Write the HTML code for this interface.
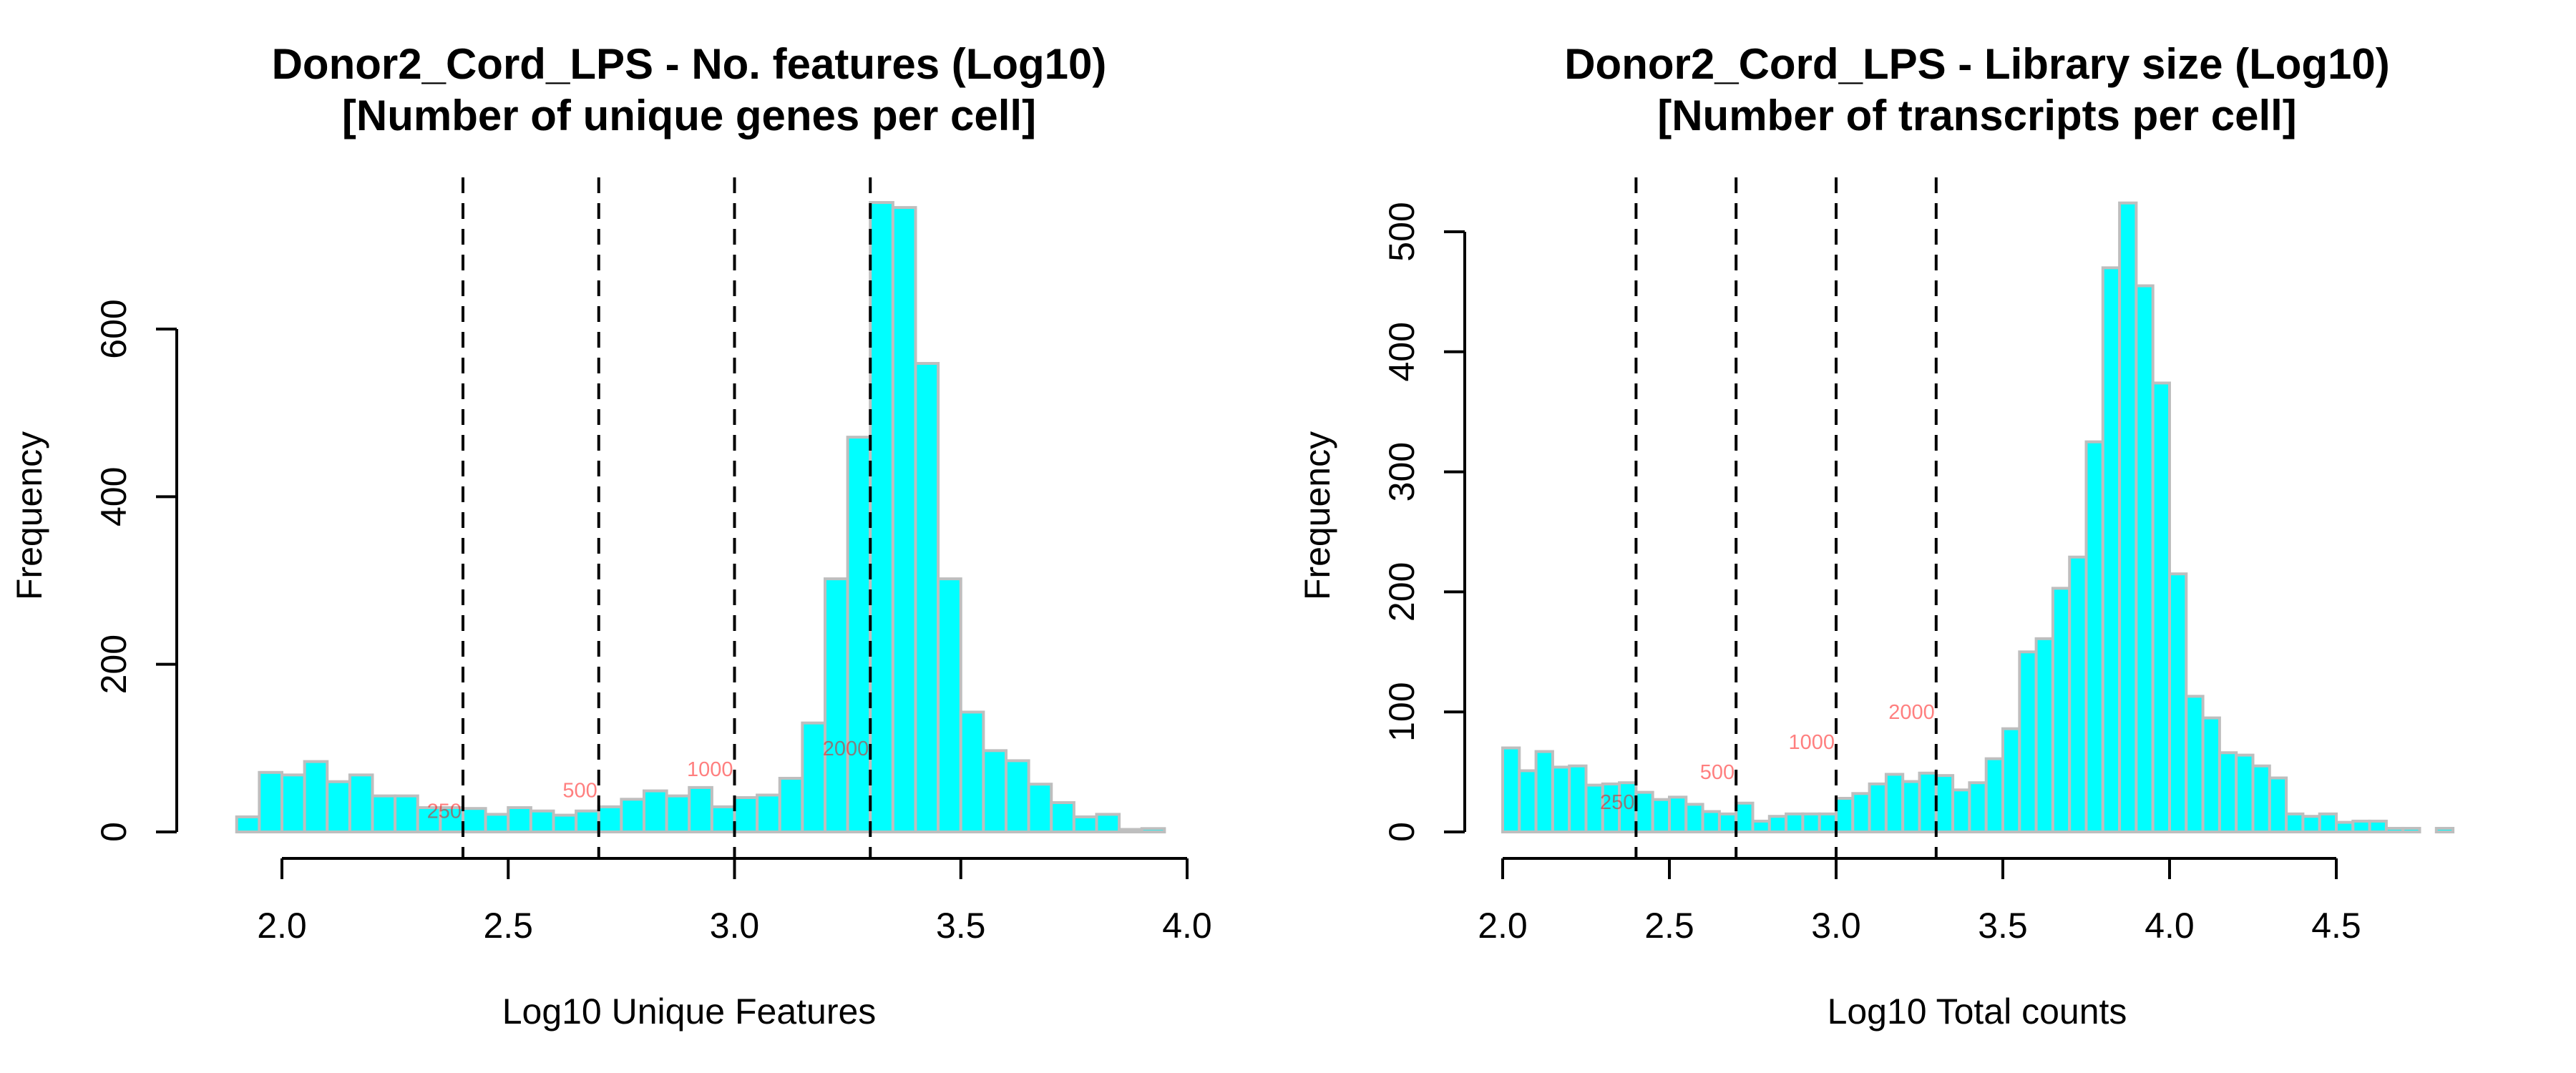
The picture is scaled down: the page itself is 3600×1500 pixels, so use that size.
<!DOCTYPE html>
<html><head><meta charset="utf-8"><style>
html,body{margin:0;padding:0;background:#fff;}
svg{display:block;font-family:"Liberation Sans",Arial,sans-serif;}
</style></head><body>
<svg id="chart" width="3600" height="1500" viewBox="0 0 3600 1500" xmlns="http://www.w3.org/2000/svg">
<rect width="3600" height="1500" fill="#fff"/>
</svg>
<script>
// ---- Left panel data ----
const leftBinStart = 1.85;
const leftBinWidth = 0.05;
const leftCounts = [0,18,71,68,84,60,68,43,43,29,29,28,21,29,25,20,25,30,39,49,43,53,30,41,44,64,130,302,471,751,745,559,302,143,97,85,57,35,18,21,3,4];
const leftXTicks = [2.0,2.5,3.0,3.5,4.0];
const leftXTickLabels = ["2.0","2.5","3.0","3.5","4.0"];
const leftYTicks = [0,200,400,600];
const leftYTickLabels = ["0","200","400","600"];
// ---- Right panel data ----
const rightBinStart = 2.0;
const rightBinWidth = 0.05;
const rightCounts = [70,51,67,54,55,39,40,41,33,27,29,23,17,15,24,9,13,15,15,15,28,32,40,48,42,49,47,35,41,61,86,150,161,203,229,325,470,524,455,374,215,113,95,66,64,55,45,15,13,15,8,9,9,3,3,0,3];
const rightXTicks = [2.0,2.5,3.0,3.5,4.0,4.5];
const rightXTickLabels = ["2.0","2.5","3.0","3.5","4.0","4.5"];
const rightYTicks = [0,100,200,300,400,500];
const rightYTickLabels = ["0","100","200","300","400","500"];
// ---- Cutoff lines ----
const cutoffValues = [2.4,2.7,3.0,3.3];
const cutoffLabels = ["250","500","1000","2000"];
const cutoffLabelY = [25,50,75,100];

const NS="http://www.w3.org/2000/svg";
const svg=document.getElementById('chart');
function mk(tag,attrs,parent){const e=document.createElementNS(NS,tag);for(const k in attrs)e.setAttribute(k,attrs[k]);(parent||svg).appendChild(e);return e;}

function panel(cfg){
  const g=mk('g',{});
  
  
  const X=v=>cfg.x0+(v-cfg.xv0)*cfg.xs;
  const Y=v=>cfg.y0-v*cfg.ys;
  // bars
  cfg.counts.forEach((c,i)=>{
    const a=cfg.binStart+i*cfg.binWidth, b=a+cfg.binWidth;
    const r=mk('rect',{x:X(a),y:Y(c),width:X(b)-X(a),height:Y(0)-Y(c),fill:'#00FFFF',stroke:'#BEBEBE','stroke-width':4},g);
    
    
  });
  // cutoffs
  cutoffValues.forEach((v,i)=>{
    const l=mk('line',{x1:X(v),x2:X(v),y1:248,y2:1200,stroke:'#000','stroke-width':4,'stroke-dasharray':'22 14'},g);
    
    
    const t=mk('text',{x:X(v)-2,y:Y(cutoffLabelY[i])+10,'text-anchor':'end','font-size':29,fill:'rgba(255,0,0,0.5)'},g);
    t.textContent=cutoffLabels[i];
    
    
  });
  // x axis
  const xa=mk('g',{},g);
  
  
  mk('line',{x1:X(cfg.xTicks[0]),x2:X(cfg.xTicks[cfg.xTicks.length-1]),y1:1200,y2:1200,stroke:'#000','stroke-width':4},xa);
  cfg.xTicks.forEach((v,i)=>{
    mk('line',{x1:X(v),x2:X(v),y1:1200,y2:1229,stroke:'#000','stroke-width':4},xa);
    const t=mk('text',{x:X(v),y:1311,'text-anchor':'middle','font-size':50},xa);
    t.textContent=cfg.xTickLabels[i];
    
    
  });
  // y axis
  const ya=mk('g',{},g);
  
  
  mk('line',{x1:cfg.yAxisX,x2:cfg.yAxisX,y1:Y(cfg.yTicks[0]),y2:Y(cfg.yTicks[cfg.yTicks.length-1]),stroke:'#000','stroke-width':4},ya);
  cfg.yTicks.forEach((v,i)=>{
    mk('line',{x1:cfg.yAxisX-29,x2:cfg.yAxisX,y1:Y(v),y2:Y(v),stroke:'#000','stroke-width':4},ya);
    const tx=cfg.yAxisX-71;
    const t=mk('text',{x:tx,y:Y(v),'text-anchor':'middle','font-size':50,transform:`rotate(-90 ${tx} ${Y(v)})`},ya);
    t.textContent=cfg.yTickLabels[i];
    
    
  });
  // titles
  const cx=cfg.yAxisX+716;
  const t1=mk('text',{x:cx,y:110,'text-anchor':'middle','font-size':60,'font-weight':'bold'},g);
  t1.textContent=cfg.title1;
  
  
  const t2=mk('text',{x:cx,y:182,'text-anchor':'middle','font-size':60,'font-weight':'bold'},g);
  t2.textContent=cfg.title2;
  
  
  const xl=mk('text',{x:cx,y:1431,'text-anchor':'middle','font-size':50},g);
  xl.textContent=cfg.xLabel;
  
  
  const fx=cfg.yAxisX-189, fy=721;
  const yl=mk('text',{x:fx,y:fy,'text-anchor':'middle','font-size':50,transform:`rotate(-90 ${fx} ${fy})`},g);
  yl.textContent='Frequency';
  
  
}

panel({name:'features-histogram',x0:394,xv0:2,xs:632.5,y0:1163,ys:703/600,yAxisX:247,
  binStart:leftBinStart,binWidth:leftBinWidth,counts:leftCounts,
  xTicks:leftXTicks,xTickLabels:leftXTickLabels,yTicks:leftYTicks,yTickLabels:leftYTickLabels,
  title1:'Donor2_Cord_LPS - No. features (Log10)',title2:'[Number of unique genes per cell]',xLabel:'Log10 Unique Features'});
panel({name:'library-size-histogram',x0:2100,xv0:2,xs:466,y0:1163,ys:839/500,yAxisX:2047,
  binStart:rightBinStart,binWidth:rightBinWidth,counts:rightCounts,
  xTicks:rightXTicks,xTickLabels:rightXTickLabels,yTicks:rightYTicks,yTickLabels:rightYTickLabels,
  title1:'Donor2_Cord_LPS - Library size (Log10)',title2:'[Number of transcripts per cell]',xLabel:'Log10 Total counts'});
</script>
</body></html>
